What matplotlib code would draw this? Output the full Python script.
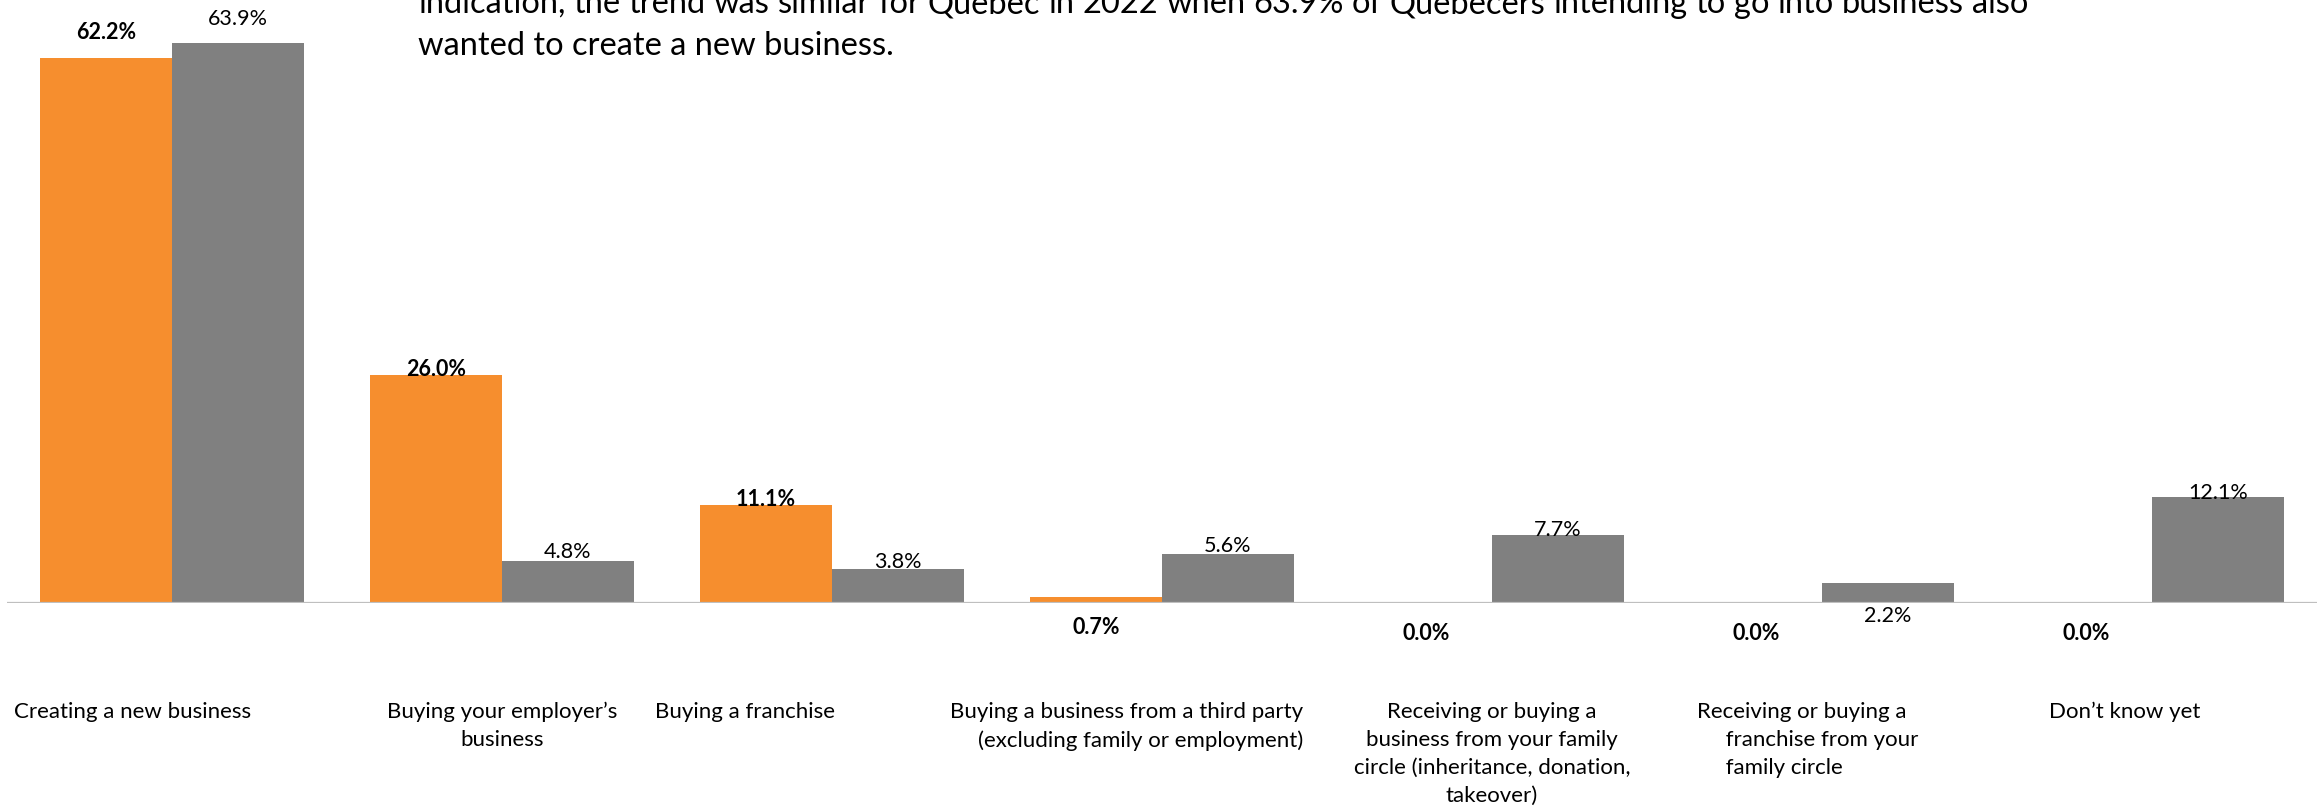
import matplotlib
matplotlib.use('Agg')
import matplotlib.pyplot as plt

plt.rcParams['font.family'] = ['Lato', 'DejaVu Sans']

# survey shares (%), by transition type
categories = [
    'Creating a new business',
    'Buying your employer\u2019s\nbusiness',
    'Buying a franchise',
    'Buying a business from a third party\n(excluding family or employment)',
    'Receiving or buying a\nbusiness from your family\ncircle (inheritance, donation,\ntakeover)',
    'Receiving or buying a\n     franchise from your\n     family circle',
    'Don\u2019t know yet',
]
orange_vals = [62.2, 26.0, 11.1, 0.7, 0.0, 0.0, 0.0]
gray_vals = [63.9, 4.8, 3.8, 5.6, 7.7, 2.2, 12.1]

intro_line1 = ('indication, the trend was similar for Quebec in 2022 when 63.9% of '
               'Quebecers intending to go into business also')
intro_line2 = 'wanted to create a new business.'

ORANGE = '#F68E2E'
GRAY = '#808080'
W, H = 2320, 812
PX = 0.72  # points per pixel at dpi 100

fig = plt.figure(figsize=(W / 100, H / 100), dpi=100)
base_px = 603.7
ax = fig.add_axes([7 / W, (H - base_px) / H, 2310 / W, base_px / H])

x = list(range(len(categories)))
bw = 0.4
ax.bar([i - bw / 2 for i in x], orange_vals, width=bw, color=ORANGE)
ax.bar([i + bw / 2 for i in x], gray_vals, width=bw, color=GRAY)
ax.axhline(0, color='#BFBFBF', lw=1.6, zorder=3)

ax.set_xlim(-0.5, 6.5)
ax.set_ylim(0, base_px / 8.76)
ax.axis('off')

# value labels: offset in pixels; positive = above bar top, negative = below baseline
orange_dy = [26, 6, 6.5, -23.5, -29.5, -29.5, -29.5]
gray_dy = [25, 9.5, 8.5, 8.5, 6, -12.5, 4.5]


def put_labels(xs, vals, dys, weight):
    for xi, v, dy in zip(xs, vals, dys):
        anchor = v if dy > 0 else 0
        ax.annotate(f'{v:.1f}%', xy=(xi, anchor), xytext=(0, dy * PX),
                    textcoords='offset points', ha='center', va='center',
                    fontsize=15.5, fontweight=weight, color='black')


put_labels([i - bw / 2 for i in x], orange_vals, orange_dy, 'bold')
put_labels([i + bw / 2 for i in x], gray_vals, gray_dy, 'normal')

# category labels, placed under the baseline
cat_pos = [(-0.12, 'center'), (1.0, 'center'), (1.737, 'center'), (3.428, 'right'),
           (4.0, 'center'), (4.622, 'left'), (5.916, 'center')]
trans = ax.get_xaxis_transform()
for lab, (cx, ha) in zip(categories, cat_pos):
    ax.text(cx, -0.163, lab, transform=trans, ha=ha, va='top', multialignment=ha,
            fontsize=16, linespacing=1.5, color='black')

# intro paragraph: first line justified between the margins
left_px, right_px = 418, 2028
fs_intro = 23.5
words = [fig.text(0, 0, w, fontsize=fs_intro, color='black') for w in intro_line1.split()]
fig.canvas.draw()
rend = fig.canvas.get_renderer()
widths = [t.get_window_extent(rend).width for t in words]
gap = (right_px - left_px - sum(widths)) / (len(words) - 1)
pos = left_px
for t, wd in zip(words, widths):
    t.set_position((pos / W, (H - 13) / H))
    t.set_va('baseline')
    pos += wd + gap
fig.text(left_px / W, (H - 55) / H, intro_line2, fontsize=fs_intro, va='baseline', color='black')

fig.savefig('out.png', dpi=100)
